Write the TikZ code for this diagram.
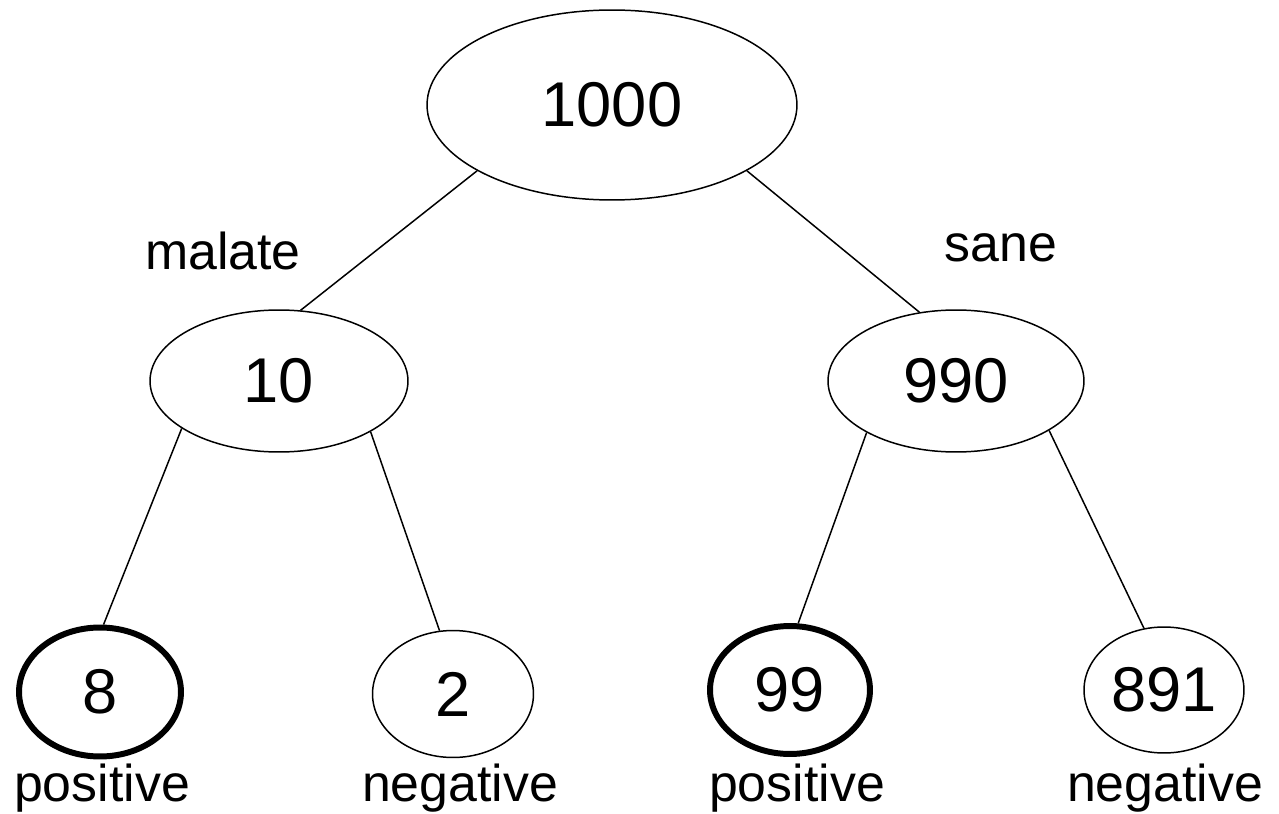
\documentclass[tikz,border=0pt]{standalone}
\usepackage{fontspec}
\setmainfont{Liberation Sans}
\usetikzlibrary{shapes.geometric,positioning}

\newcommand{\numfont}{\fontsize{36}{42}\selectfont}
\newcommand{\tagfont}{\fontsize{29.5}{35}\selectfont}

\begin{document}
\begin{tikzpicture}[
    x=0.02cm, y=-0.02cm,
    count node/.style={ellipse, draw, line width=0.85pt, inner sep=0pt, font=\numfont},
    hit node/.style={count node, line width=3.4pt},
    branch/.style={line width=0.85pt},
    tag/.style={anchor=base, inner sep=0pt, font=\tagfont}
]
    \useasboundingbox (0,0) rectangle (1279,814);

    % counts
    \node [count node, minimum width=7.4cm, minimum height=3.8cm] (root) at (612,105) {1000};
    \node [count node, minimum width=5.16cm, minimum height=2.84cm] (ill) at (279,381) {10};
    \node [count node, minimum width=5.12cm, minimum height=2.84cm] (well) at (956,381) {990};
    \node [hit node, minimum width=3.24cm, minimum height=2.58cm] (illpos) at (100,692) {8};
    \node [count node, minimum width=3.22cm, minimum height=2.54cm] (illneg) at (453,694) {2};
    \node [hit node, minimum width=3.2cm, minimum height=2.56cm] (wellpos) at (790,690) {99};
    \node [count node, minimum width=3.2cm, minimum height=2.52cm] (wellneg) at (1164,690) {891};

    % branches
    \draw [branch] (root.206) -- (ill.73);
    \draw [branch] (root.334) -- (well.118);
    \draw [branch] (ill.206) -- (illpos.87);
    \draw [branch] (ill.331) -- (illneg.102);
    \draw [branch] (well.210) -- (wellpos.83);
    \draw [branch] (well.332) -- (wellneg.108);

    % labels
    \node [tag] (malate) at (223,270) {malate};
    \node [tag] (sane) at (1001,262) {sane};
    \node [tag] (illpostag) at (102,801) {positive};
    \node [tag] (illnegtag) at (460,801) {negative};
    \node [tag] (wellpostag) at (797,801) {positive};
    \node [tag] (wellnegtag) at (1165,801) {negative};
\end{tikzpicture}
\end{document}
